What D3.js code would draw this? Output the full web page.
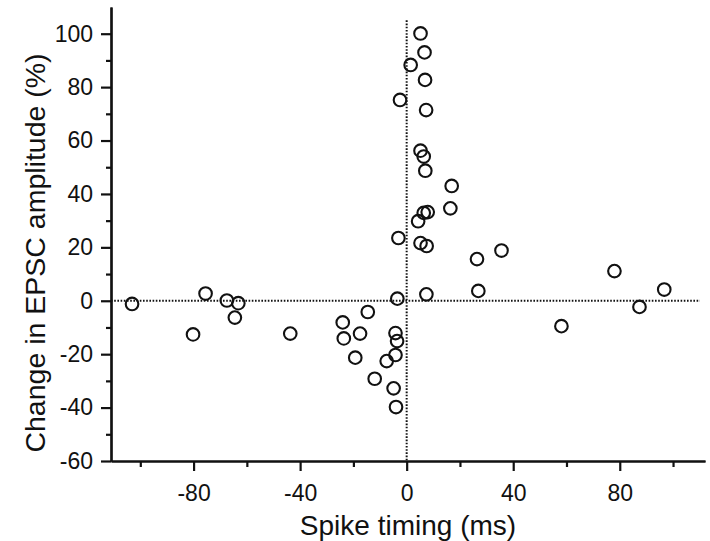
<!DOCTYPE html>
<html>
<head>
<meta charset="utf-8">
<script src="https://cdn.jsdelivr.net/npm/d3@7"></script>
<style>
    body { margin: 0; background: #fff; }
    text { font-family: "Liberation Sans", Arial, sans-serif; fill: #111; }
</style>
</head>
<body>
<script>
const d_margin = {top: 7, right: 5, bottom: 80, left: 111};
const v_width = 710 - d_margin.left - d_margin.right;
const v_height = 541 - d_margin.top - d_margin.bottom;

// spike timing (ms) and change in EPSC amplitude (%) for every cell
var a_timing = [-103.1, -80.2, -75.5, -67.5, -63.2, -64.5, -43.7, -24, -23.6, -17.5,
    -14.6, -19.3, -12, -7.5, -4.9, -4, -4.2, -4.2, -3.6, -3.5,
    -3.1, -2.5, 1.5, 5.2, 6.7, 6.9, 7.3, 5.2, 6.4, 7,
    4.3, 6.4, 7.9, 5.2, 7.5, 7.4, 16.9, 16.4, 26.4, 26.9,
    35.6, 58.1, 78, 87.4, 96.7];
var a_change = [-1.2, -12.6, 2.7, 0.1, -0.9, -6.3, -12.3, -8.1, -14.1, -12.3,
    -4.2, -21.3, -29.2, -22.6, -32.8, -39.8, -20.3, -12.1, -15.1, 0.8,
    23.5, 75.2, 88.3, 100.1, 93, 82.7, 71.4, 56.2, 54, 48.7,
    29.8, 32.9, 33.2, 21.6, 20.5, 2.4, 43, 34.6, 15.6, 3.7,
    18.8, -9.5, 11.1, -2.3, 4.2];

var a_x_ticks = [-80, -40, 0, 40, 80];
var a_x_minor = [-100, -60, -20, 20, 60, 100];
var a_y_ticks = [-60, -40, -20, 0, 20, 40, 60, 80, 100];
var a_y_minor = [-50, -30, -10, 10, 30, 50, 70, 90];

var x_sc = d3.scaleLinear().domain([-111, 112]).range([0, v_width]);
var y_sc = d3.scaleLinear().domain([-60, 110]).range([v_height, 0]);

var svg = d3.select("body").append("svg")
    .attr("width", 710)
    .attr("height", 541);

var g = svg.append("g")
    .attr("transform", `translate(${d_margin.left}, ${d_margin.top})`);

// dotted zero lines
g.append("line")
    .attr("x1", 0).attr("x2", v_width - 5)
    .attr("y1", y_sc(0)).attr("y2", y_sc(0))
    .attr("stroke", "#111").attr("stroke-width", 2)
    .attr("stroke-dasharray", "1.6,1.6");
g.append("line")
    .attr("x1", x_sc(0)).attr("x2", x_sc(0))
    .attr("y1", y_sc(105)).attr("y2", v_height)
    .attr("stroke", "#111").attr("stroke-width", 2)
    .attr("stroke-dasharray", "1.6,1.6");

// axes - major ticks with labels, minor ticks without
var x_axis = d3.axisBottom(x_sc).tickValues(a_x_ticks).tickSize(10).tickSizeOuter(0).tickPadding(14);
var x_axis_minor = d3.axisBottom(x_sc).tickValues(a_x_minor).tickSize(6).tickSizeOuter(0).tickFormat("");
var y_axis = d3.axisLeft(y_sc).tickValues(a_y_ticks).tickSize(10).tickSizeOuter(0).tickPadding(8);
var y_axis_minor = d3.axisLeft(y_sc).tickValues(a_y_minor).tickSize(5).tickSizeOuter(0).tickFormat("");

const x_axis_group = g.append("g")
    .attr("transform", `translate(0, ${v_height})`)
    .call(x_axis);
g.append("g")
    .attr("transform", `translate(0, ${v_height})`)
    .call(x_axis_minor);
const y_axis_group = g.append("g").call(y_axis);
g.append("g").call(y_axis_minor);

g.selectAll(".domain, .tick line")
    .attr("stroke", "#111")
    .attr("stroke-width", 2.2);
g.selectAll(".tick text")
    .style("font-size", "23px")
    .style("font-family", "Liberation Sans, Arial, sans-serif")
    .attr("fill", "#111");
x_axis_group.selectAll(".tick text").text(function (d) { return d; });
y_axis_group.selectAll(".tick text").text(function (d) { return d; });

// data points
g.selectAll(".pt")
    .data(a_timing)
    .enter().append("circle")
    .attr("class", "pt")
    .attr("cx", function (d) { return x_sc(d); })
    .attr("cy", function (d, i) { return y_sc(a_change[i]); })
    .attr("r", 6.3)
    .attr("fill", "none")
    .attr("stroke", "#111")
    .attr("stroke-width", 2.1);

// axis titles
svg.append("text")
    .attr("x", 408)
    .attr("y", 535)
    .attr("text-anchor", "middle")
    .style("font-size", "28px")
    .text("Spike timing (ms)");

svg.append("text")
    .attr("transform", "translate(45, 253) rotate(-90)")
    .attr("text-anchor", "middle")
    .style("font-size", "28.5px")
    .text("Change in EPSC amplitude (%)");
</script>
</body>
</html>
